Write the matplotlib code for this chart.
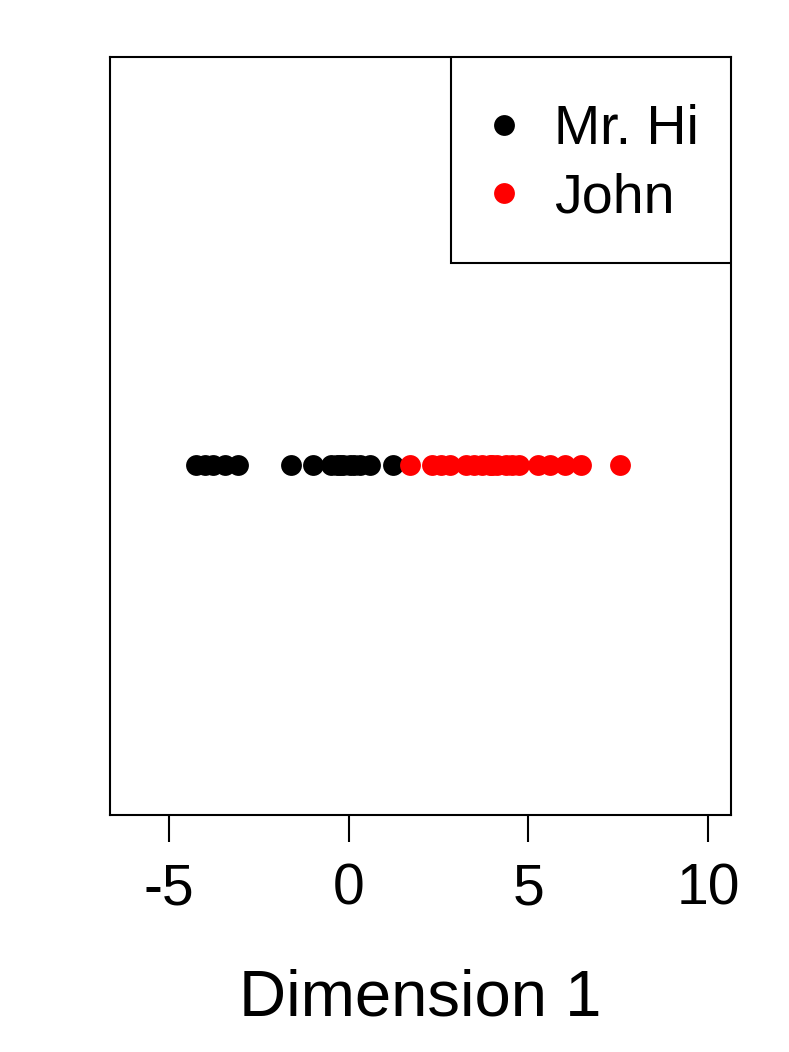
import numpy as np
import matplotlib
matplotlib.use("Agg")
import matplotlib.pyplot as plt
from matplotlib.patches import Rectangle

plt.rcParams['font.family'] = ['Liberation Sans', 'DejaVu Sans']

# 1D embedding of the two factions
mr_hi = [-4.24, -4.01, -3.76, -3.43, -3.08,
         -1.61, -1.00, -0.50, -0.33, -0.25, -0.16, 0.03, 0.15, 0.31, 0.59, 1.24]
john = [1.71, 2.32, 2.58, 2.83, 3.27, 3.50, 3.72, 3.94, 4.00, 4.14, 4.39,
        4.73, 5.28, 5.59, 6.01, 6.46, 7.55, 4.55]
xticks = [-5, 0, 5, 10]

fig = plt.figure(figsize=(7.89, 10.52), dpi=100)
ax = fig.add_axes([0.1394, 0.2253, 0.7871, 0.7205])

ax.plot(mr_hi, np.zeros(len(mr_hi)), 'o', color='black', markersize=15,
        markeredgewidth=0, linestyle='none', label='Mr. Hi')
ax.plot(john, np.zeros(len(john)), 'o', color='red', markersize=15,
        markeredgewidth=0, linestyle='none', label='John')

ax.set_xlim(-6.64, 10.64)
ax.set_ylim(-1, 1.165)
ax.set_xticks(xticks)
ax.set_xticklabels([str(t) for t in xticks])
ax.set_yticks([])
ax.tick_params(axis='x', length=19.5, width=1.5, pad=15, labelsize=41)
for s in ax.spines.values():
    s.set_linewidth(1.5)
ax.set_xlabel('Dimension 1', fontsize=47, labelpad=37)

# legend box (R style, flush with the top right corner)
box_left, box_bottom = 0.549, 0.728
ax.add_patch(Rectangle((box_left, box_bottom), 1 - box_left, 1 - box_bottom,
                       transform=ax.transAxes, facecolor='white',
                       edgecolor='black', linewidth=1.5, zorder=4))
leg = ax.legend(loc='upper left', bbox_to_anchor=(box_left, 1), borderaxespad=0,
                fontsize=40, frameon=False,
                borderpad=0.85, handlelength=0.2, handletextpad=0.8,
                labelspacing=0.3, markerscale=1)
leg.set_zorder(5)

fig.savefig('out.png', dpi=100)
